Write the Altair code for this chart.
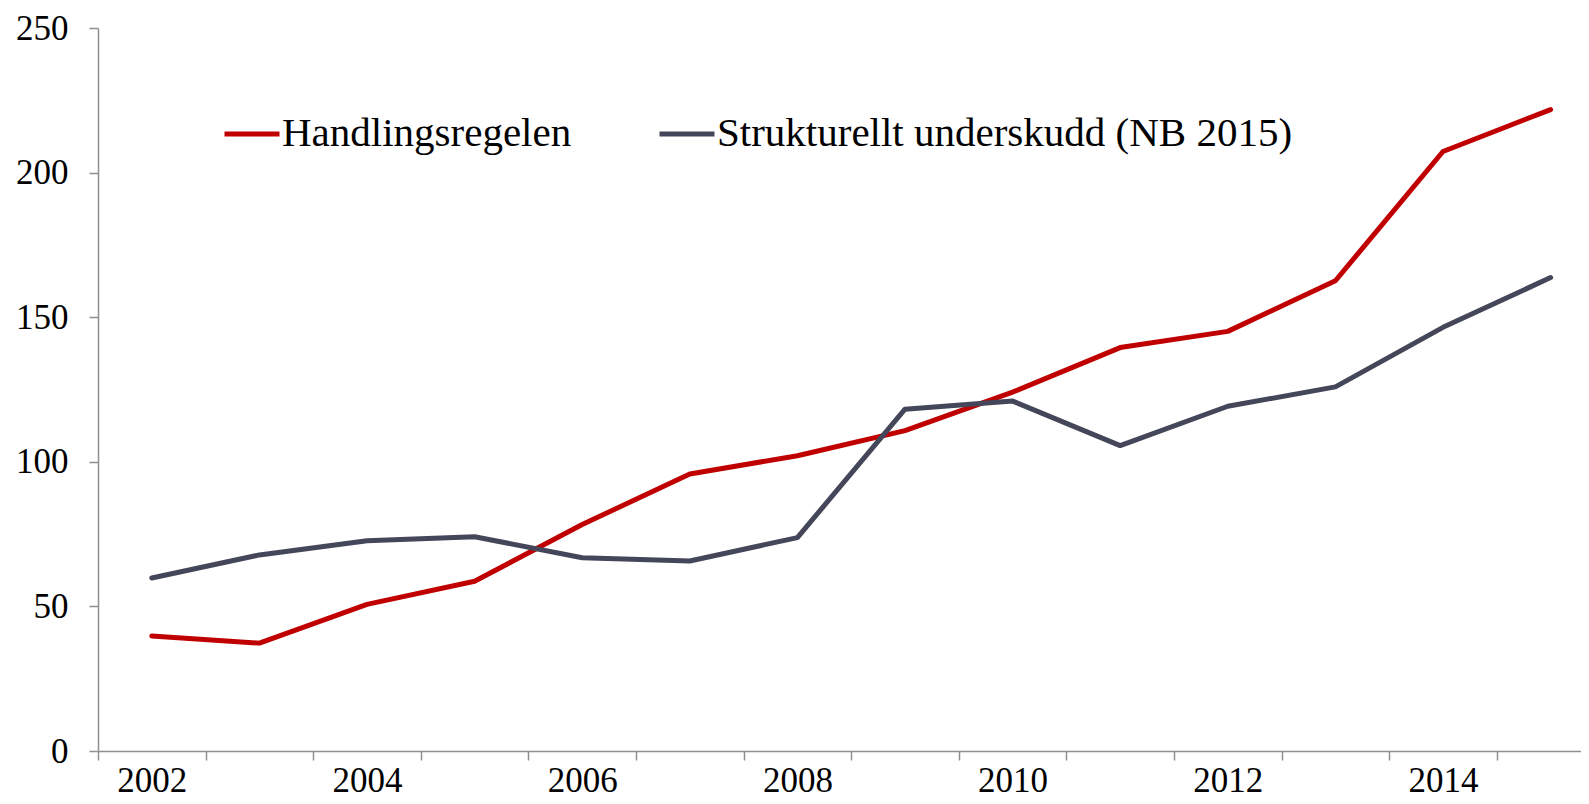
import altair as alt
import pandas as pd

years = list(range(2002, 2016))
handlingsregelen = [39.8, 37.3, 50.7, 58.7, 78.3, 95.8, 102.1, 110.8, 124.1, 139.5, 145.1, 162.6, 207.3, 221.8]
strukturelt = [59.8, 67.8, 72.7, 74.1, 66.8, 65.7, 73.8, 118.2, 121.0, 105.6, 119.2, 125.9, 146.5, 163.7]
series_names = ["Handlingsregelen", "Strukturellt underskudd (NB 2015)"]
series_colors = ["#C00000", "#44465A"]
y_ticks = [0, 50, 100, 150, 200, 250]
x_label_years = [2002, 2004, 2006, 2008, 2010, 2012, 2014]
x_boundaries = [y - 0.5 for y in years]

rows = []
for yr, v in zip(years, handlingsregelen):
    rows.append({"year": yr, "value": v, "series": series_names[0]})
for yr, v in zip(years, strukturelt):
    rows.append({"year": yr, "value": v, "series": series_names[1]})
df = pd.DataFrame(rows)

FONT = "Liberation Serif"
AXIS_COLOR = "#8f8f8f"
PLOT_W = 1483
PLOT_H = 723
BAND = 107.6

x_values = sorted(set(x_boundaries + x_label_years))

chart = alt.Chart(df).mark_line(
    strokeWidth=5, strokeCap="round", strokeJoin="round"
).encode(
    x=alt.X(
        "year:Q",
        scale=alt.Scale(domain=[2001.5, 2001.5 + PLOT_W / BAND], nice=False, zero=False),
        axis=alt.Axis(
            title=None,
            values=x_values,
            labelExpr="datum.value % 2 == 0 ? '' + datum.value : ''",
            labelOverlap=False,
            labelFlush=False,
            labelFont=FONT,
            labelFontSize=35,
            labelColor="black",
            labelPadding=3,
            tickSize=9,
            tickWidth=1.5,
            tickColor=AXIS_COLOR,
            tickOpacity={"condition": {"test": "datum.value % 1 == 0", "value": 0}, "value": 1},
            domainColor=AXIS_COLOR,
            domainWidth=1.5,
            grid=False,
        ),
    ),
    y=alt.Y(
        "value:Q",
        scale=alt.Scale(domain=[0, 250], nice=False),
        axis=alt.Axis(
            title=None,
            values=y_ticks,
            labelFont=FONT,
            labelFontSize=35,
            labelColor="black",
            labelPadding=21,
            tickSize=9,
            tickWidth=1.5,
            tickColor=AXIS_COLOR,
            domainColor=AXIS_COLOR,
            domainWidth=1.5,
            grid=False,
        ),
    ),
    color=alt.Color(
        "series:N",
        scale=alt.Scale(domain=series_names, range=series_colors),
        legend=alt.Legend(
            title=None,
            orient="none",
            legendX=124,
            legendY=76,
            direction="horizontal",
            symbolType="stroke",
            symbolSize=3025,
            symbolStrokeWidth=5,
            labelFont=FONT,
            labelFontSize=41,
            labelColor="black",
            labelOffset=0,
            labelLimit=1000,
            columnPadding=77,
            padding=0,
        ),
    ),
).properties(
    width=PLOT_W,
    height=PLOT_H,
    autosize=alt.AutoSizeParams(type="none"),
    padding={"left": 90, "top": 20, "right": 0, "bottom": 60},
).configure_view(stroke=None)

chart.save("out.html", embed_options={"renderer": "svg", "actions": False})
